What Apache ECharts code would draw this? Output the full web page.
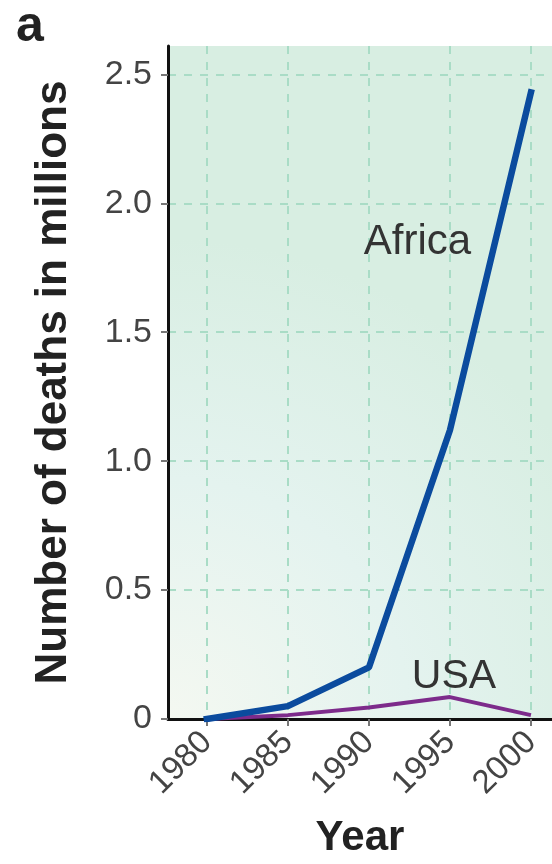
<!DOCTYPE html>
<html><head><meta charset="utf-8">
<script src="https://cdn.jsdelivr.net/npm/echarts@6/dist/echarts.min.js"></script>
<style>html,body{margin:0;padding:0;background:#fff}#c{width:552px;height:864px}</style>
</head><body><div id="c"></div>
<script>
const years = [1980, 1985, 1990, 1995, 2000];
const africa = [0, 0.05, 0.2, 1.12, 2.43];
const usa = [0, 0.015, 0.045, 0.085, 0.015];
const yTicks = [0, 0.5, 1.0, 1.5, 2.0, 2.5];
const seriesNames = ['Africa', 'USA'];
const panelLetter = 'a';

const FONT = 'Liberation Sans, Arial, sans-serif';
const chart = echarts.init(document.getElementById('c'));
const lbl = (text, size) => ({
  show: true, formatter: text, fontFamily: FONT, fontSize: size, color: '#333',
  position: 'inside', align: 'center', verticalAlign: 'middle'
});
chart.setOption({
  animation: false,
  backgroundColor: '#fff',
  grid: {
    left: 168, top: 46, right: 0, bottom: 142, show: true, borderWidth: 0,
    backgroundColor: {
      type: 'radial', x: 0, y: 1, r: 1.25,
      colorStops: [{offset: 0, color: '#f4f8f1'}, {offset: 0.5, color: '#e4f3ef'}, {offset: 1, color: '#d8eee2'}]
    }
  },
  graphic: [{
    type: 'text', left: 16, top: 2,
    style: {text: panelLetter, font: 'bold 50px ' + FONT, fill: '#222'}
  }],
  xAxis: {
    type: 'value', min: 1977.6, max: 2001.3,
    name: 'Year', nameLocation: 'middle', nameGap: 98,
    nameTextStyle: {fontFamily: FONT, fontWeight: 'bold', fontSize: 42, color: '#222'},
    axisLine: {show: true, onZero: false, lineStyle: {color: '#111', width: 3}},
    axisTick: {show: true, customValues: years, length: 7, lineStyle: {color: '#777', width: 2}},
    axisLabel: {customValues: years, rotate: 45, margin: 18, fontFamily: FONT, fontSize: 33, color: '#444',
      formatter: v => String(v)},
    splitLine: {show: true, lineStyle: {color: '#a9dcc6', width: 2, type: [8, 8]}}
  },
  yAxis: {
    type: 'value', min: 0, max: 2.61,
    name: 'Number of deaths in millions', nameLocation: 'middle', nameGap: 92, nameRotate: 90,
    nameTextStyle: {fontFamily: FONT, fontWeight: 'bold', fontSize: 44, color: '#222'},
    axisLine: {show: true, lineStyle: {color: '#111', width: 3}},
    axisTick: {show: true, customValues: yTicks, length: 7, lineStyle: {color: '#777', width: 2}},
    axisLabel: {customValues: yTicks, margin: 16, fontFamily: FONT, fontSize: 34, color: '#444',
      formatter: v => v === 0 ? '0' : v.toFixed(1)},
    splitLine: {show: true, lineStyle: {color: '#a9dcc6', width: 2, type: [8, 8]}}
  },
  series: [{
    name: seriesNames[0], type: 'line', data: years.map((y, i) => [y, africa[i]]),
    showSymbol: false, lineStyle: {color: '#0b4b9e', width: 6.5, cap: 'square'}, z: 3,
    markPoint: {symbol: 'circle', symbolSize: 2, itemStyle: {color: 'rgba(0,0,0,0)'},
      data: [{coord: [1993.0, 1.85]}], label: lbl(seriesNames[0], 42)}
  }, {
    name: seriesNames[1], type: 'line', data: years.map((y, i) => [y, usa[i]]),
    showSymbol: false, lineStyle: {color: '#7d2b8b', width: 4}, z: 2,
    markPoint: {symbol: 'circle', symbolSize: 2, itemStyle: {color: 'rgba(0,0,0,0)'},
      data: [{coord: [1995.25, 0.165]}], label: lbl(seriesNames[1], 41)}
  }]
});
</script></body></html>
